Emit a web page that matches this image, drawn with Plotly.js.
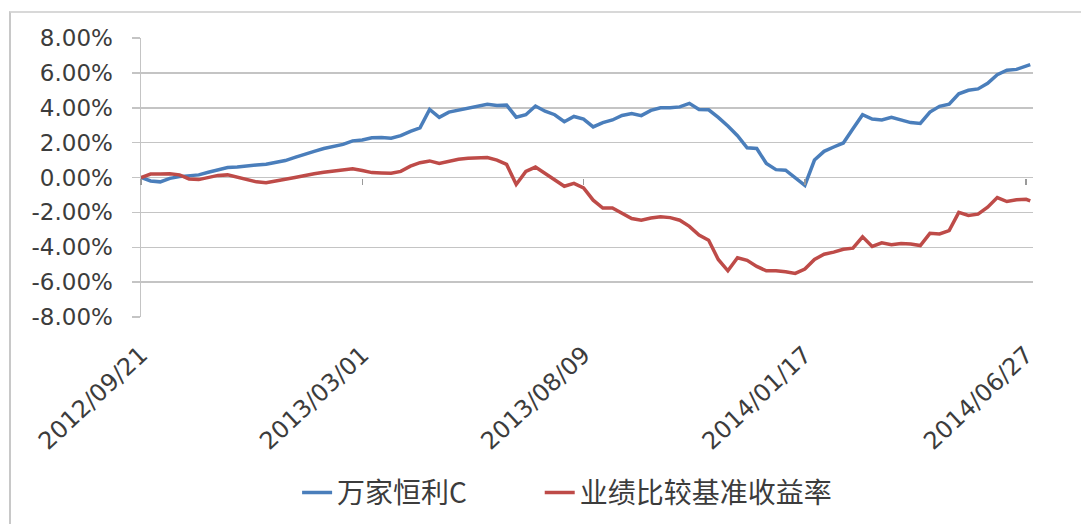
<!DOCTYPE html>
<html>
<head>
<meta charset="utf-8">
<script src="https://cdn.plot.ly/plotly-3.0.1.min.js"></script>
<style>
  html, body { margin: 0; padding: 0; background: #ffffff; }
  #frame { position: absolute; left: 9px; top: 11px; width: 1070px; height: 520px;
           border-left: 2px solid #c8c8c8; border-top: 2px solid #d8d8d8; }
  #chart { position: absolute; left: 0; top: 0; width: 1083px; height: 524px; }
</style>
</head>
<body>
<div id="frame"></div>
<div id="chart"></div>
<script>
// Weekly observation dates (Fridays), last point 2014-06-30
const dates = [
  '2012-09-21','2012-09-28','2012-10-05','2012-10-12','2012-10-19','2012-10-26',
  '2012-11-02','2012-11-09','2012-11-16','2012-11-23','2012-11-30','2012-12-07',
  '2012-12-14','2012-12-21','2012-12-28','2013-01-04','2013-01-11','2013-01-18',
  '2013-01-25','2013-02-01','2013-02-08','2013-02-15','2013-02-22','2013-03-01',
  '2013-03-08','2013-03-15','2013-03-22','2013-03-29','2013-04-05','2013-04-12',
  '2013-04-19','2013-04-26','2013-05-03','2013-05-10','2013-05-17','2013-05-24',
  '2013-05-31','2013-06-07','2013-06-14','2013-06-21','2013-06-28','2013-07-05',
  '2013-07-12','2013-07-19','2013-07-26','2013-08-02','2013-08-09','2013-08-16',
  '2013-08-23','2013-08-30','2013-09-06','2013-09-13','2013-09-20','2013-09-27',
  '2013-10-04','2013-10-11','2013-10-18','2013-10-25','2013-11-01','2013-11-08',
  '2013-11-15','2013-11-22','2013-11-29','2013-12-06','2013-12-13','2013-12-20',
  '2013-12-27','2014-01-03','2014-01-10','2014-01-17','2014-01-24','2014-01-31',
  '2014-02-07','2014-02-14','2014-02-21','2014-02-28','2014-03-07','2014-03-14',
  '2014-03-21','2014-03-28','2014-04-04','2014-04-11','2014-04-18','2014-04-25',
  '2014-05-02','2014-05-09','2014-05-16','2014-05-23','2014-05-30','2014-06-06',
  '2014-06-13','2014-06-20','2014-06-27','2014-06-30'
];

// 万家恒利C cumulative return (%)
const fundReturn = [
  0.00,-0.20,-0.25,-0.05,0.05,0.08,
  0.15,0.30,0.45,0.57,0.60,0.68,
  0.72,0.76,0.85,0.97,1.15,1.30,
  1.50,1.66,1.78,1.90,2.10,2.15,
  2.28,2.30,2.25,2.40,2.65,2.85,
  3.90,3.45,3.75,3.87,3.98,4.08,
  4.20,4.13,4.15,3.46,3.60,4.10,
  3.80,3.60,3.20,3.50,3.35,2.90,
  3.15,3.30,3.56,3.67,3.55,3.85,
  4.00,4.00,4.05,4.25,3.90,3.88,
  3.45,2.95,2.40,1.70,1.66,0.80,
  0.45,0.42,0.00,-0.45,1.00,1.50,
  1.75,1.98,2.80,3.60,3.35,3.30,
  3.45,3.30,3.15,3.10,3.75,4.08,
  4.20,4.80,5.00,5.08,5.40,5.90,
  6.15,6.20,6.38,6.47
];

// 业绩比较基准收益率 (%)
const benchReturn = [
  0.00,0.20,0.20,0.22,0.15,-0.08,
  -0.12,0.02,0.12,0.15,0.00,-0.12,
  -0.25,-0.30,-0.22,-0.10,0.00,0.12,
  0.22,0.30,0.38,0.42,0.50,0.40,
  0.28,0.26,0.25,0.35,0.65,0.85,
  0.95,0.80,0.95,1.05,1.10,1.14,
  1.14,1.00,0.75,-0.40,0.35,0.60,
  0.25,-0.15,-0.50,-0.34,-0.60,-1.30,
  -1.75,-1.75,-2.05,-2.35,-2.45,-2.32,
  -2.25,-2.30,-2.45,-2.80,-3.30,-3.60,
  -4.70,-5.35,-4.60,-4.75,-5.10,-5.35,
  -5.35,-5.40,-5.50,-5.25,-4.70,-4.40,
  -4.28,-4.12,-4.05,-3.40,-3.95,-3.75,
  -3.85,-3.78,-3.82,-3.90,-3.20,-3.24,
  -3.05,-2.00,-2.18,-2.10,-1.70,-1.15,
  -1.38,-1.28,-1.25,-1.34
];

const tickDates = ['2012-09-21','2013-03-01','2013-08-09','2014-01-17','2014-06-27'];
const tickLabels = ['2012/09/21','2013/03/01','2013/08/09','2014/01/17','2014/06/27'];
const yTicks = [-8,-6,-4,-2,0,2,4,6,8];
const yTickLabels = ['-8.00%','-6.00%','-4.00%','-2.00%','0.00%','2.00%','4.00%','6.00%','8.00%'];
const seriesNames = ['万家恒利C','业绩比较基准收益率'];

const xRange = ['2012-09-21','2014-07-02'];
const gridCol = '#c4c4c4';
const textCol = '#3c3c3c';

const traces = [
  { x: dates, y: fundReturn, name: seriesNames[0], type: 'scatter', mode: 'lines',
    line: { color: '#4a7ebb', width: 3.5 }, legend: 'legend' },
  { x: dates, y: benchReturn, name: seriesNames[1], type: 'scatter', mode: 'lines',
    line: { color: '#be4b48', width: 3.5 }, legend: 'legend2' },
  { x: dates, y: fundReturn, xaxis: 'x2', type: 'scatter', mode: 'lines',
    line: { width: 0 }, opacity: 0, showlegend: false, hoverinfo: 'skip' }
];

const legendFont = { family: '"Noto Sans CJK SC", sans-serif', size: 28, color: textCol };

const layout = {
  width: 1083, height: 524,
  margin: { l: 141, r: 50, t: 38, b: 207, autoexpand: false },
  paper_bgcolor: 'rgba(0,0,0,0)', plot_bgcolor: 'rgba(0,0,0,0)',
  font: { family: 'DejaVu Sans, sans-serif', color: textCol },
  showlegend: true,
  legend: {
    orientation: 'h', x: 0.175, xanchor: 'left', y: -0.63, yanchor: 'middle',
    font: legendFont
  },
  legend2: {
    orientation: 'h', x: 0.447, xanchor: 'left', y: -0.63, yanchor: 'middle',
    font: legendFont
  },
  xaxis: {
    type: 'date', range: xRange, automargin: false,
    tickvals: tickDates, ticktext: tickLabels, tickangle: -43,
    tickfont: { family: 'DejaVu Sans, sans-serif', size: 24, color: textCol },
    ticks: '', showgrid: false, showline: false, zeroline: false,
    ticklabelstandoff: 18
  },
  xaxis2: {
    type: 'date', range: xRange, overlaying: 'x', anchor: 'free', position: 0.5,
    tickvals: tickDates, showticklabels: false, ticks: 'outside', ticklen: 6,
    tickwidth: 1.5, tickcolor: '#9a9a9a', showgrid: false, showline: false, zeroline: false
  },
  yaxis: {
    range: [-8, 8], tickvals: yTicks, ticktext: yTickLabels, automargin: false,
    tickfont: { family: 'DejaVu Sans, sans-serif', size: 23, color: textCol },
    showgrid: true, gridcolor: gridCol, gridwidth: 1.5,
    showline: true, linecolor: gridCol, linewidth: 1.5,
    ticks: 'outside', ticklen: 8, tickcolor: gridCol, tickwidth: 1.5,
    zeroline: false, ticklabelstandoff: 14
  }
};

Plotly.newPlot('chart', traces, layout, { staticPlot: true, displayModeBar: false });
</script>
</body>
</html>
